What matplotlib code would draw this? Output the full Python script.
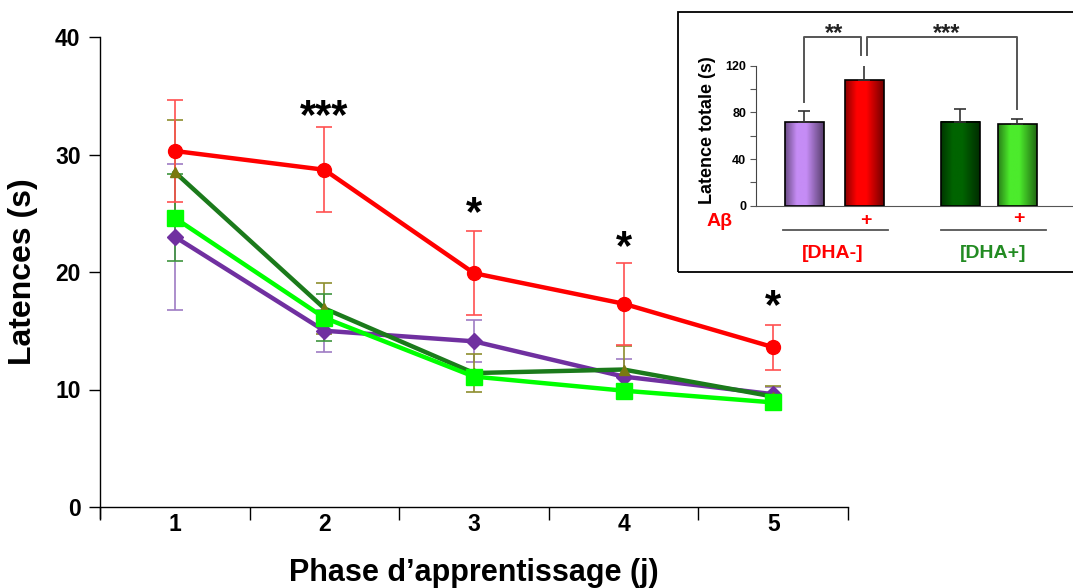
import numpy as np
import matplotlib
matplotlib.use("Agg")
import matplotlib.pyplot as plt
from matplotlib.patches import Rectangle
from matplotlib.lines import Line2D
from matplotlib.colors import to_rgb

plt.rcParams['font.family'] = ['Liberation Sans', 'DejaVu Sans']
plt.rcParams['font.weight'] = 'bold'

# ---------------- data ----------------
days = [1, 2, 3, 4, 5]
day_labels = ["1", "2", "3", "4", "5"]

purple_vals = [23.0, 15.0, 14.1, 11.1, 9.6]
purple_err = [6.2, 1.8, 1.8, 1.5, 0.6]
darkgreen_vals = [28.5, 16.9, 11.4, 11.7, 9.4]
darkgreen_err = [4.4, 2.2, 1.6, 2.0, 0.9]
lightgreen_vals = [24.6, 16.1, 11.1, 9.9, 8.9]
lightgreen_err = [3.7, 2.0, 0.5, 0.5, 0.3]
red_vals = [30.3, 28.7, 19.9, 17.3, 13.6]
red_err = [4.3, 3.6, 3.6, 3.5, 1.9]

sig_days = [2, 3, 4, 5]
sig_labels = ["***", "*", "*", "*"]
sig_y = [33.2, 24.9, 22.0, 17.0]

inset_groups = ["DHA- / Aβ-", "DHA- / Aβ+", "DHA+ / Aβ-", "DHA+ / Aβ+"]
inset_vals = [71.5, 107.7, 72.0, 70.0]
inset_err = [9.7, 15.7, 10.9, 4.3]

W, H = 1073, 588
fig = plt.figure(figsize=(W / 100, H / 100), dpi=100)

def fx(px):
    return px / W

def fy(py):
    return 1 - py / H

# ---------------- main axes ----------------
ax = fig.add_axes([fx(100), fy(507), fx(848) - fx(100), fy(37) - fy(507)])

c_purple = '#7030A0'
c_dgreen = '#1B7A1B'
c_lgreen = '#00FF00'
c_red = '#FF0000'

ax.errorbar(days, purple_vals, yerr=purple_err, fmt='none', ecolor='#9E7BC4',
            elinewidth=1.2, capsize=6, capthick=1.2, zorder=2)
ax.errorbar(days, darkgreen_vals, yerr=darkgreen_err, fmt='none', ecolor='#8E8E2E',
            elinewidth=1.2, capsize=6, capthick=1.2, zorder=2)
ax.errorbar(days, lightgreen_vals, yerr=lightgreen_err, fmt='none', ecolor='#3E953E',
            elinewidth=1.2, capsize=6, capthick=1.2, zorder=2)
ax.errorbar(days, red_vals, yerr=red_err, fmt='none', ecolor='#FF5050',
            elinewidth=1.2, capsize=6, capthick=1.2, zorder=2)

ax.plot(days, purple_vals, color=c_purple, lw=3.2, marker='D', ms=8,
        mfc=c_purple, mec=c_purple, zorder=3)
ax.plot(days, darkgreen_vals, color=c_dgreen, lw=3.2, marker='^', ms=7,
        mfc='#7A7A10', mec='#7A7A10', zorder=4)
ax.plot(days, lightgreen_vals, color=c_lgreen, lw=3.2, marker='s', ms=11,
        mfc=c_lgreen, mec=c_lgreen, zorder=5)
ax.plot(days, red_vals, color=c_red, lw=3.2, marker='o', ms=10,
        mfc=c_red, mec=c_red, zorder=6)

for d, lab, yv in zip(sig_days, sig_labels, sig_y):
    ax.text(d, yv, lab, ha='center', va='center', fontsize=30, fontweight='bold',
            color='black')

ax.set_xlim(0.5, 5.5)
ax.set_ylim(0, 40)
ax.set_xticks(days)
ax.set_xticklabels(day_labels)
ax.set_xticks(np.arange(0.5, 5.6, 1.0), minor=True)
ax.tick_params(axis='x', which='major', length=0, pad=4, labelsize=16.5)
ax.tick_params(axis='x', which='minor', length=9, width=1, direction='out')
ax.set_yticks([0, 10, 20, 30, 40])
ax.tick_params(axis='y', which='major', length=8, width=1, direction='out',
               labelsize=16.5, pad=6)
for lab in ax.get_xticklabels() + ax.get_yticklabels():
    lab.set_fontweight('bold')
ax.spines['top'].set_visible(False)
ax.spines['right'].set_visible(False)
ax.spines['left'].set_linewidth(1)
ax.spines['bottom'].set_linewidth(1)
ax.spines['left'].set_bounds(-0.9, 40)

ax.set_ylabel("Latences (s)", fontsize=23, fontweight='bold', labelpad=12)
ax.set_xlabel("Phase d\u2019apprentissage (j)", fontsize=22, fontweight='bold',
              labelpad=16)

# ---------------- inset ----------------
box = Rectangle((fx(678), fy(272)), fx(1090) - fx(678), fy(12) - fy(272),
                transform=fig.transFigure, fill=False, ec='black', lw=1.3,
                zorder=0)
fig.patches.append(box)

iax = fig.add_axes([fx(756), fy(205.7), fx(1073) - fx(756), fy(65.7) - fy(205.7)])
pos = [1, 2, 3.6, 4.55]
bw = 0.65
base_cols = ['#C58CF5', '#FF0000', '#006400', '#4CEB2C']

def grad_bar(axh, x, h, w, col):
    rgb = np.array(to_rgb(col))
    n = 64
    t = np.linspace(0, 1, n)
    prof = np.interp(t, [0, 0.3, 0.55, 1.0], [0.55, 1.0, 1.0, 0.45])
    img = np.clip(rgb[None, :] * prof[:, None], 0, 1)[None, :, :]
    axh.imshow(img, extent=[x - w / 2, x + w / 2, 0, h], aspect='auto',
               zorder=2, interpolation='bilinear')
    r = Rectangle((x - w / 2, 0), w, h, fill=False, ec='black', lw=1.2, zorder=3)
    axh.add_patch(r)

for p, v, e, c in zip(pos, inset_vals, inset_err, base_cols):
    grad_bar(iax, p, v, bw, c)
    iax.errorbar([p], [v], yerr=[[0], [e]], fmt='none', ecolor='#333333',
                 elinewidth=1.2, capsize=4, capthick=1.2, zorder=4)
iax.set_xlim(0.2, 0.2 + 317 / 60)
iax.set_ylim(0, 120)
iax.set_aspect('auto')

iax.spines['top'].set_visible(False)
iax.spines['right'].set_visible(False)
iax.spines['left'].set_color('#444444')
iax.spines['bottom'].set_color('#555555')
iax.set_xticks([])
iax.set_yticks([0, 40, 80, 120])
iax.set_yticks([20, 60, 100], minor=True)
iax.tick_params(axis='y', which='both', length=4, width=0.8, colors='#555555',
                labelcolor='black', labelsize=9, pad=3)
for lab in iax.get_yticklabels():
    lab.set_fontweight('bold')
iax.set_ylabel("Latence totale (s)", fontsize=13, fontweight='bold')
iax.yaxis.set_label_coords(-0.125, 0.54)

# significance brackets in inset
bc = '#555555'
top = 144.5
leg = 129
iax.plot([pos[0], pos[0], pos[1] - 0.05, pos[1] - 0.05], [89, top, top, leg],
         color=bc, lw=1.4, clip_on=False)
iax.plot([pos[1] + 0.05, pos[1] + 0.05, pos[3], pos[3]], [leg, top, top, 83],
         color=bc, lw=1.4, clip_on=False)
iax.text((pos[0] + pos[1]) / 2, top - 6.5, "**", ha='center', va='bottom',
         fontsize=17, fontweight='bold', color='#222222')
iax.text((pos[1] + pos[3]) / 2 + 0.1, top - 6.5, "***", ha='center', va='bottom',
         fontsize=17, fontweight='bold', color='#222222')

# labels below inset
fig.text(fx(720), fy(221), "A\u03b2", color='red', fontsize=14,
         fontweight='bold', ha='center', va='center')
fig.text(fx(866), fy(220), "+", color='red', fontsize=14,
         fontweight='bold', ha='center', va='center')
fig.text(fx(1019), fy(218), "+", color='red', fontsize=14,
         fontweight='bold', ha='center', va='center')
fig.add_artist(Line2D([fx(783), fx(888)], [fy(230), fy(230)], color='#555555',
                      lw=1.3, transform=fig.transFigure))
fig.add_artist(Line2D([fx(941), fx(1046)], [fy(230), fy(230)], color='#555555',
                      lw=1.3, transform=fig.transFigure))
fig.text(fx(833), fy(253), "[DHA-]", color='red', fontsize=14,
         fontweight='bold', ha='center', va='center')
fig.text(fx(993), fy(253), "[DHA+]", color='#228B22', fontsize=14,
         fontweight='bold', ha='center', va='center')

fig.savefig("out.png", dpi=100)
